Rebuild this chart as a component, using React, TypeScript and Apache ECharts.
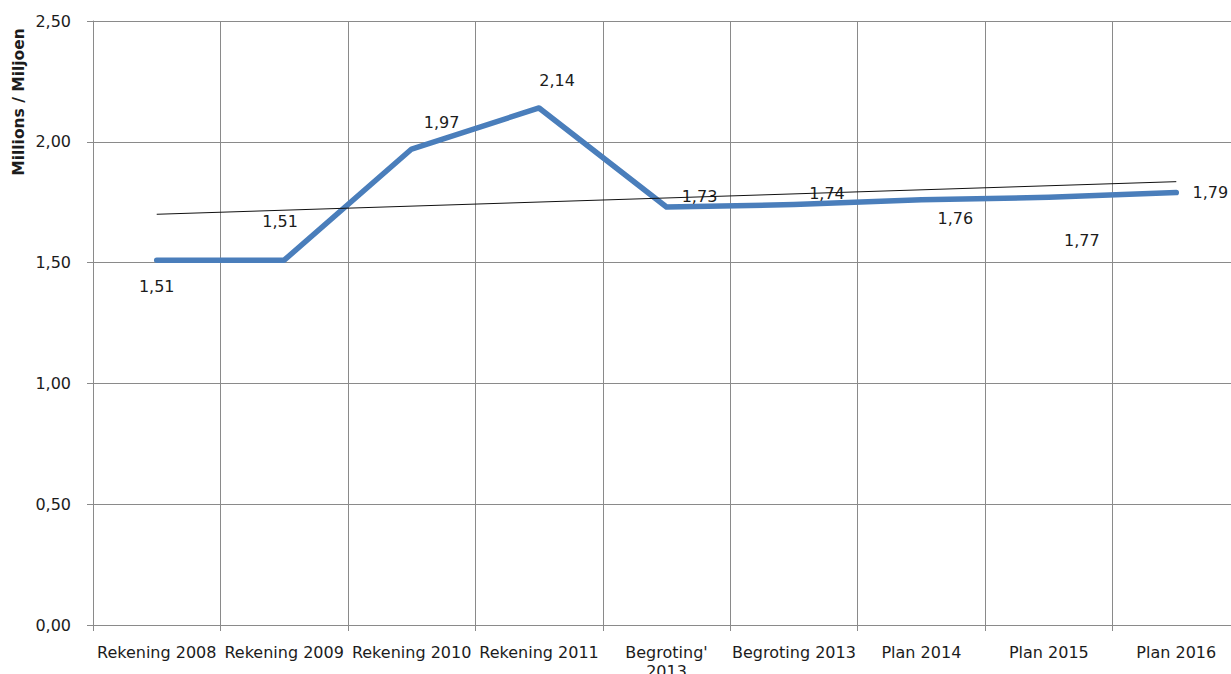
import React, { useEffect, useRef } from "react";
import * as echarts from "echarts";

const categories = [
  "Rekening 2008",
  "Rekening 2009",
  "Rekening 2010",
  "Rekening 2011",
  "Begroting' 2013",
  "Begroting 2013",
  "Plan 2014",
  "Plan 2015",
  "Plan 2016",
];
const values = [1.51, 1.51, 1.97, 2.14, 1.73, 1.74, 1.76, 1.77, 1.79];
const trendValues = [1.7, null, null, null, null, null, null, null, 1.835];
const labelOffsets: [number, number][] = [
  [0, 26],
  [-4, -39],
  [30, -27],
  [18, -27],
  [33, -11],
  [33, -11],
  [34, 19],
  [33, 43],
  [34, 0],
];
const yAxisTitle = "Millions / Miljoen";

const FONT = "DejaVu Sans";
const TEXT = "#1c1c1c";
const GRID = "#8a8a8a";

export default function App() {
  const ref = useRef<HTMLDivElement>(null);
  useEffect(() => {
    if (!ref.current) return;
    const chart = echarts.init(ref.current, undefined, { renderer: "svg" });
    chart.setOption({
      animation: false,
      backgroundColor: "#ffffff",
      grid: {
        left: 93,
        right: 10,
        top: 21,
        bottom: 49,
        containLabel: false,
        outerBoundsMode: "none",
      },
      xAxis: {
        type: "category",
        data: categories,
        boundaryGap: true,
        axisLine: { show: true, lineStyle: { color: GRID, width: 1 } },
        axisTick: { show: true, length: 6, lineStyle: { color: GRID } },
        splitLine: { show: true, interval: 0, lineStyle: { color: GRID, width: 1 } },
        axisLabel: {
          interval: 0,
          margin: 18,
          fontFamily: FONT,
          fontSize: 16,
          lineHeight: 19,
          color: TEXT,
          formatter: (v: string) => v.replace("' ", "'\n"),
        },
      },
      yAxis: {
        type: "value",
        min: 0,
        max: 2.5,
        interval: 0.5,
        axisLine: { show: true, lineStyle: { color: GRID, width: 1 } },
        axisTick: { show: true, length: 6, lineStyle: { color: GRID } },
        splitLine: { show: true, lineStyle: { color: GRID, width: 1 } },
        axisLabel: {
          margin: 22,
          fontFamily: FONT,
          fontSize: 16,
          color: TEXT,
          formatter: (v: number) => v.toFixed(2).replace(".", ","),
        },
      },
      graphic: [
        {
          type: "text",
          x: 19,
          y: 102,
          rotation: Math.PI / 2,
          style: {
            text: yAxisTitle,
            fontFamily: FONT,
            fontSize: 15.5,
            fontWeight: "bold",
            fill: TEXT,
            textAlign: "center",
            textVerticalAlign: "middle",
          },
        },
      ],
      series: [
        {
          type: "line",
          data: trendValues,
          connectNulls: true,
          symbol: "none",
          silent: true,
          lineStyle: { color: "#111111", width: 1 },
          z: 3,
        },
        {
          type: "line",
          data: values.map((v, i) => ({
            value: v,
            label: {
              show: true,
              position: "inside",
              offset: labelOffsets[i],
            },
          })),
          symbol: "circle",
          symbolSize: 1,
          itemStyle: { color: "#4a7ebb" },
          lineStyle: { color: "#4a7ebb", width: 5.5, cap: "round", join: "round" },
          label: {
            show: true,
            fontFamily: FONT,
            fontSize: 16,
            color: TEXT,
            align: "center",
            verticalAlign: "middle",
            formatter: (p: any) => p.value.toFixed(2).replace(".", ","),
          },
          z: 2,
        },
      ],
    });
    return () => chart.dispose();
  }, []);
  return (
    <div
      style={{
        position: "fixed",
        left: 0,
        top: 0,
        width: 1231,
        height: 674,
        overflow: "hidden",
        background: "#fff",
      }}
    >
      <div ref={ref} style={{ width: 1250, height: 674 }} />
    </div>
  );
}
